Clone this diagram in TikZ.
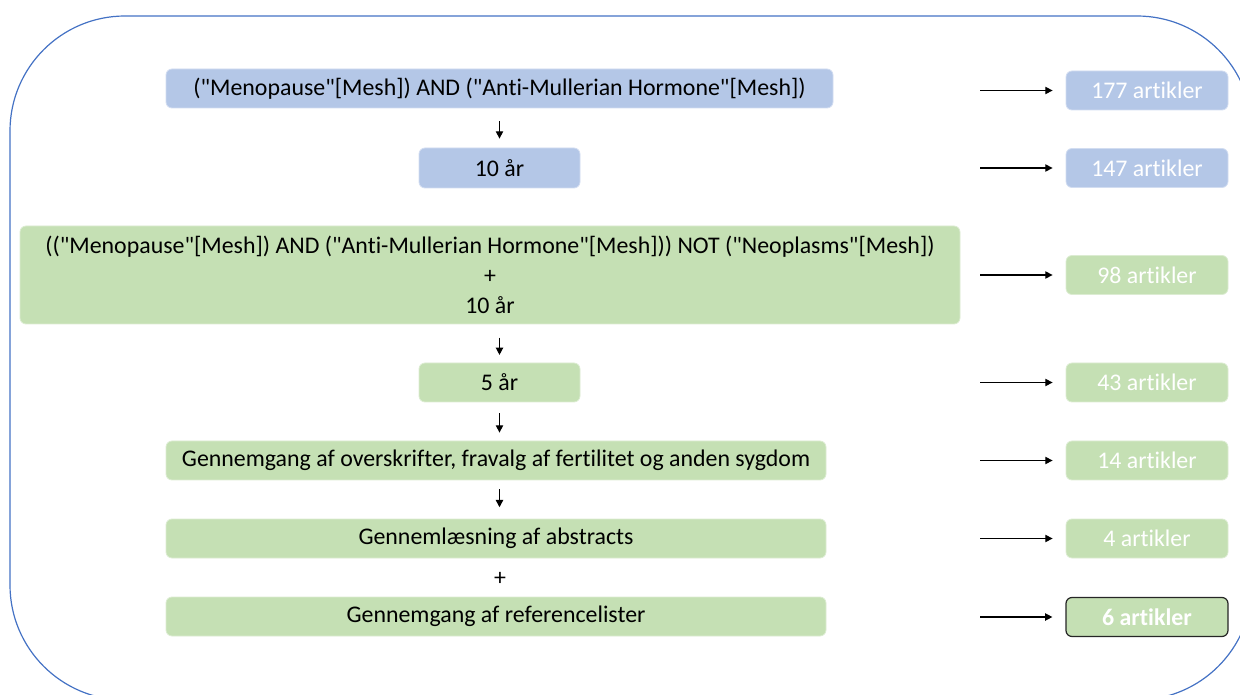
\documentclass[tikz,border=0pt]{standalone}
\usepackage{fontspec}
\setmainfont{Carlito}[Ligatures={TeXOff,NoCommon}]
\usetikzlibrary{arrows.meta}
\definecolor{bluebox}{HTML}{B4C7E7}
\definecolor{greenbox}{HTML}{C5E0B4}
\definecolor{frame}{HTML}{4472C4}
\tikzset{
  x=0.75pt, y=-0.75pt,
  base/.style={rounded corners=4.5pt, inner sep=0pt, align=center,
    font=\fontsize{17.9}{22.5}\selectfont, line width=0.6pt},
  bbox/.style={base, fill=bluebox, draw=bluebox!60!white},
  gbox/.style={base, fill=greenbox, draw=greenbox!60!white},
  rbbox/.style={bbox, text=white, minimum width=162*0.75pt, minimum height=39*0.75pt},
  rgbox/.style={gbox, text=white, minimum width=162*0.75pt, minimum height=39*0.75pt},
  arr/.style={-{Triangle[length=5.5pt,width=5.5pt]}, line width=1pt, black},
}
\begin{document}
\begin{tikzpicture}
\useasboundingbox (0,0) rectangle (1240,695);
\begin{scope}
\clip (0,0) rectangle (1240,695);
\draw[frame, line width=0.9pt, rounded corners=86.25pt] (10,16) rectangle (1252,700);
\end{scope}

% left column
\node[bbox, minimum width=667*0.75pt, minimum height=39*0.75pt] (b1) at (499.5,88.5)
  {("Menopause"[Mesh]) AND ("Anti-Mullerian Hormone"[Mesh])};
\node[bbox, minimum width=161*0.75pt, minimum height=40*0.75pt] (b2) at (499.5,168) {10 år};
\node[gbox, minimum width=940*0.75pt, minimum height=98*0.75pt] (b3) at (490,275)
  {(("Menopause"[Mesh]) AND ("Anti-Mullerian Hormone"[Mesh])) NOT ("Neoplasms"[Mesh])\\+\\10 år};
\node[gbox, minimum width=161*0.75pt, minimum height=39*0.75pt] (b4) at (499.5,382.5) {5 år};
\node[gbox, minimum width=660*0.75pt, minimum height=39*0.75pt] (b5) at (496,460.5)
  {Gennemgang af overskrifter, fravalg af fertilitet og anden sygdom};
\node[gbox, minimum width=660*0.75pt, minimum height=39*0.75pt] (b6) at (496,538.5)
  {Gennemlæsning af abstracts};
\node[base] (plus) at (500,579) {+};
\node[gbox, minimum width=660*0.75pt, minimum height=39*0.75pt] (b7) at (496,616.5)
  {Gennemgang af referencelister};

\draw[arr, shorten <=9.75pt, shorten >=6.75pt] (b1.south) -- (b2.north);
\draw[arr, shorten <=10pt, shorten >=5.75pt] (b3.south -| b4.south) -- (b4.north);
\draw[arr, shorten <=8.25pt, shorten >=6pt] (b4.south) -- (b5.north -| b4.south);
\draw[arr, shorten <=6.5pt, shorten >=8.5pt] (b5.south -| b4.south) -- (b6.north -| b4.south);

% right column
\node[rbbox] (r1) at (1147,90.5) {177 artikler};
\node[rbbox] (r2) at (1147,168) {147 artikler};
\node[rgbox] (r3) at (1147,275) {98 artikler};
\node[rgbox] (r4) at (1147,382.5) {43 artikler};
\node[rgbox] (r5) at (1147,460.5) {14 artikler};
\node[rgbox] (r6) at (1147,538.5) {4 artikler};
\node[rgbox, draw=black!85, line width=0.9pt, font=\fontsize{17.9}{22.5}\selectfont\bfseries] (r7) at (1147,617) {6 artikler};

\coordinate (a1) at (980,90.5);
\coordinate (a2) at (980,168);
\coordinate (a3) at (980,275);
\coordinate (a4) at (980,382.5);
\coordinate (a5) at (980,460.5);
\coordinate (a6) at (980,538.5);
\coordinate (a7) at (980,617);
\foreach \i in {1,...,7} {
  \draw[arr, shorten >=9.75pt] (a\i) -- (r\i);
}
\end{tikzpicture}
\end{document}
